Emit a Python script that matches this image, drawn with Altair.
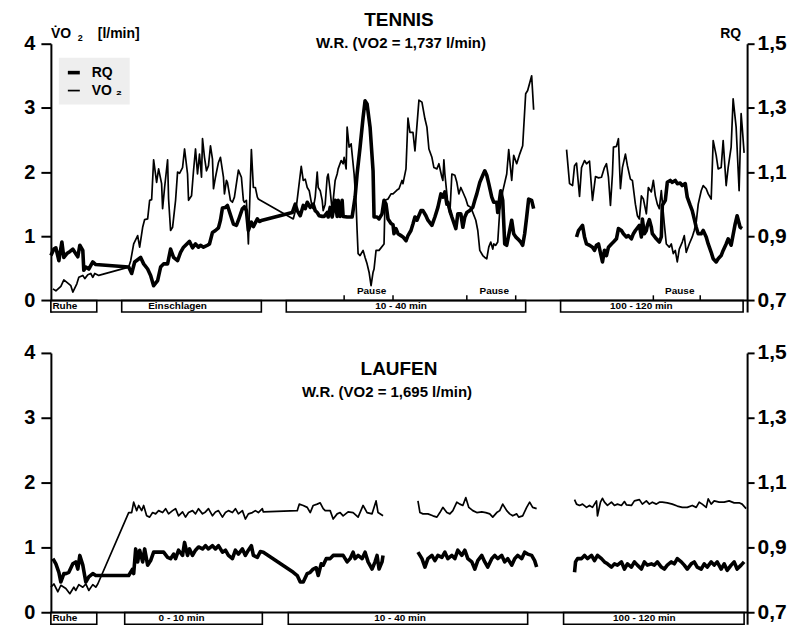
import altair as alt
import pandas as pd

FONT = "Liberation Sans"
T_DOMAIN = [0, 698]
V_DOMAIN = [-0.18, 4]
RQ_DOMAIN = [0.664, 1.5]
SERIES = ["RQ", "VO \u2082"]

# ---------------- TENNIS: VO2 (l/min) ----------------
tennis_vo2_a = [(2,0.18),(5,0.15),(10,0.22),(13,0.32),(17,0.27),(20,0.23),(22,0.13),(26,0.26),(28,0.36),(32,0.39),
 (34,0.34),(37,0.40),(40,0.42),(42,0.36),(44,0.42),(48,0.39),(78,0.52),(80,0.62),(83,0.88),(87,1.01),(89,0.83),
 (92,1.14),(94,1.26),(97,1.27),(99,1.56),(101,1.57),(103,2.19),(106,1.84),(108,2.05),(111,1.82),(112,1.43),
 (114,1.76),(117,2.19),(118,1.58),(120,1.09),(122,1.14),(125,1.56),(127,2.0),(129,1.98),(132,2.07),(134,2.36),
 (137,1.97),(138,1.56),(141,1.63),(143,2.02),(145,2.36),(147,1.97),(149,2.28),(151,1.92),(152,2.52),(154,2.23),
 (156,2.02),(158,2.10),(160,2.41),(162,2.2),(163,1.74),(165,1.92),(168,2.15),(170,2.23),(173,1.92),(174,1.66),
 (176,1.87),(177,1.84),(180,1.56),(182,1.53),(184,1.61),(188,2.03),(191,1.92),(193,1.56),(194,1.53),(196,1.56),
 (198,0.88),(201,2.35),(203,1.76),(205,1.76),(207,1.61),(208,1.58),(210,1.56),(243,1.27),(246,1.45),(251,2.09),
 (253,1.87),(255,1.89),(257,1.76),(259,1.71),(262,1.45),(263,1.43),(265,1.61),(267,2.0),(268,1.76),(270,1.71),
 (272,1.56),(273,1.40),(275,1.50),(277,1.92),(278,1.97),(280,1.71),(282,1.40),(285,1.87),(287,1.97),(288,2.05),
 (291,2.18),(293,2.13),(294,2.23),(296,2.05),(297,2.70),(299,2.39),(301,2.44),(304,1.97),(306,1.50),(307,1.09),
 (308,0.73),(310,0.70),(313,0.78),(315,0.67),(317,0.57),(319,0.44),(321,0.23),(323,0.44),(324,0.49),(326,0.78),
 (329,0.78),(334,0.88),(335,1.56),(338,1.58),(341,1.66),(343,1.66),(347,1.72),(349,1.74),(352,1.87),(353,1.82),
 (356,2.05),(358,2.84),(360,2.62),(363,2.62),(365,2.33),(369,3.12),(372,3.09),(375,2.83),(377,2.70),(379,2.36),
 (382,2.23),(384,2.07),(387,2.05),(389,2.13),(392,1.92),(393,1.87),(394,2.19),(395,1.97),(397,1.66),(398,1.50),
 (400,1.35),(402,1.97),(405,1.95),(407,1.84),(409,1.66),(411,1.76),(413,1.69),(416,1.58),(418,1.48),(421,1.45),
 (426,1.25),(428,1.09),(430,0.78),(433,0.70),(435,0.67),(437,0.65),(439,0.83),(441,0.91),(443,0.80),(444,0.88),
 (446,0.86),(448,0.91),(450,1.40),(453,1.70),(457,1.97),(459,2.35),(462,1.87),(464,2.26),(467,2.13),(470,2.28),
 (473,2.41),(476,3.22),(478,3.27),(482,3.50),(484,2.97)]
tennis_vo2_b = [(517,2.35),(520,1.82),(523,1.79),(525,2.10),(527,2.14),(530,1.62),(532,2.07),(535,2.18),(537,2.13),
 (540,2.17),(543,1.56),(546,1.93),(549,1.91),(552,1.92),(555,2.07),(557,2.13),(559,1.92),(561,1.48),(563,1.97),
 (564,2.39),(567,2.40),(569,2.52),(571,1.74),(573,2.07),(576,2.28),(578,2.10),(581,1.89),(583,1.87),(586,1.50),
 (588,1.32),(590,1.27),(592,1.63),(594,1.58),(597,1.35),(599,1.76),(602,1.69),(604,1.87),(606,1.63),(608,1.50),
 (610,1.43),(612,1.71),(615,1.19),(617,0.88),(620,0.83),(622,0.88),(624,0.73),(626,0.78),(628,0.60),(630,0.80),
 (633,0.91),(635,1.01),(637,0.75),(640,0.88),(643,0.99),(645,1.09),(647,1.22),(649,1.50),(652,1.71),(654,1.79),
 (657,1.74),(659,1.66),(662,1.58),(664,2.49),(667,2.26),(669,2.05),(672,2.07),(674,2.49),(677,1.79),(679,2.07),
 (682,2.39),(684,3.14),(687,2.70),(690,1.71),(692,2.91),(693,2.72),(695,2.30)]

# ---------------- TENNIS: RQ ----------------
tennis_rq_a = [(0,0.840),(3,0.860),(5,0.864),(8,0.824),(11,0.882),(13,0.834),(16,0.846),(18,0.850),(22,0.860),
 (24,0.850),(27,0.836),(29,0.872),(32,0.856),(33,0.794),(35,0.804),(38,0.798),(42,0.820),(45,0.812),(78,0.804),
 (81,0.784),(84,0.820),(90,0.834),(93,0.814),(97,0.798),(100,0.778),(103,0.746),(107,0.762),(110,0.804),
 (113,0.814),(117,0.814),(120,0.860),(123,0.834),(127,0.824),(130,0.850),(133,0.866),(139,0.884),(142,0.864),
 (145,0.876),(148,0.866),(150,0.872),(153,0.866),(157,0.872),(159,0.876),(162,0.912),(165,0.918),(168,0.926),
 (170,0.950),(172,0.988),(175,0.990),(177,0.996),(183,0.938),(186,0.934),(188,0.950),(192,0.986),(194,0.992),
 (196,0.980),(198,0.918),(201,0.944),(203,0.930),(207,0.954),(209,0.946),(212,0.950),(242,0.974),(245,1.000),
 (247,0.980),(250,0.964),(253,0.996),(255,0.986),(257,1.006),(260,0.990),(263,1.000),(265,0.980),(267,0.974),
 (269,0.964),(272,0.962),(274,0.962),(277,0.974),(278,0.960),(280,0.990),(282,0.960),(285,1.012),(287,0.962),
 (288,1.012),(290,0.962),(292,1.012),(293,0.962),(297,0.960),(302,0.960),(305,1.022),(307,1.094),(310,1.178),
 (313,1.270),(315,1.322),(317,1.312),(320,1.240),(323,1.104),(324,0.960),(327,0.960),(329,0.954),(332,0.970),
 (334,1.012),(336,1.000),(338,0.954),(341,0.940),(343,0.936),(344,0.908),(346,0.924),(348,0.908),(351,0.902),
 (353,0.898),(356,0.886),(358,0.902),(361,0.918),(363,0.938),(365,0.960),(367,0.950),(371,0.980),(373,0.980),
 (376,0.964),(378,0.950),(382,0.934),(385,0.960),(388,0.990),(391,1.032),(393,1.022),(395,1.038),(397,1.000),
 (398,1.006),(400,0.980),(402,0.960),(406,0.924),(408,0.970),(411,0.970),(413,0.928),(415,0.960),(417,0.974),
 (420,0.980),(423,0.990),(425,1.012),(427,1.032),(430,1.068),(433,1.090),(435,1.104),(437,1.090),(439,1.064),
 (442,1.022),(444,1.006),(447,1.006),(448,0.974),(451,1.042),(453,1.012),(455,0.876),(457,0.872),(462,0.950),
 (464,0.908),(466,0.898),(468,0.892),(471,0.882),(473,0.872),(475,0.908),(477,0.960),(479,1.016),(482,1.012),
 (484,0.986)]
tennis_rq_b = [(527,0.898),(529,0.918),(533,0.934),(535,0.898),(537,0.876),(540,0.872),(543,0.866),(545,0.856),
 (547,0.872),(549,0.876),(552,0.834),(553,0.820),(555,0.856),(557,0.840),(559,0.866),(562,0.876),(564,0.882),
 (567,0.892),(569,0.924),(572,0.918),(574,0.908),(577,0.898),(579,0.902),(582,0.892),(584,0.908),(586,0.918),
 (590,0.934),(592,0.898),(593,0.954),(595,0.908),(597,0.918),(598,0.934),(600,0.952),(602,0.928),(603,0.908),
 (607,0.892),(610,0.882),(612,0.898),(613,0.996),(616,1.012),(618,1.068),(621,1.074),(623,1.068),(626,1.074),
 (628,1.064),(631,1.066),(633,1.058),(636,1.064),(638,1.022),(641,0.996),(643,0.980),(645,0.954),(647,0.928),
 (649,0.908),(652,0.908),(654,0.918),(657,0.898),(659,0.876),(662,0.850),(664,0.830),(667,0.820),(669,0.830),
 (672,0.840),(674,0.856),(677,0.876),(679,0.892),(682,0.872),(686,0.938),(688,0.964),(691,0.928),(693,0.924)]

# ---------------- LAUFEN: VO2 (l/min) ----------------
laufen_vo2_a = [(0,0.39),(3,0.44),(7,0.32),(10,0.42),(15,0.37),(19,0.29),(23,0.39),(25,0.34),(28,0.43),(32,0.39),
 (35,0.44),(38,0.34),(42,0.43),(45,0.39),(47,0.44),(78,1.54),(81,1.54),(83,1.70),(86,1.57),(88,1.65),(91,1.57),
 (93,1.65),(96,1.49),(99,1.47),(102,1.54),(105,1.52),(108,1.57),(112,1.54),(115,1.60),(118,1.52),(122,1.57),
 (125,1.60),(128,1.49),(132,1.55),(135,1.47),(138,1.54),(142,1.57),(145,1.52),(148,1.60),(152,1.52),(155,1.55),
 (158,1.60),(162,1.49),(165,1.55),(168,1.57),(172,1.47),(175,1.54),(178,1.57),(182,1.54),(185,1.60),(188,1.52),
 (192,1.57),(195,1.44),(198,1.52),(202,1.54),(205,1.57),(208,1.54),(212,1.60),(213,1.55),(247,1.57),(249,1.67),
 (253,1.65),(257,1.62),(260,1.54),(263,1.65),(267,1.67),(270,1.69),(273,1.60),(275,1.57),(280,1.57),(283,1.44),
 (287,1.52),(290,1.54),(293,1.49),(298,1.55),(303,1.54),(308,1.47),(313,1.65),(317,1.54),(322,1.52),(326,1.72),
 (328,1.54),(333,1.49)]
laufen_vo2_b = [(368,1.72),(370,1.54),(373,1.52),(378,1.52),(383,1.49),(387,1.47),(390,1.54),(393,1.62),(397,1.54),
 (400,1.52),(403,1.57),(407,1.70),(410,1.67),(413,1.65),(416,1.77),(419,1.62),(423,1.57),(427,1.54),(432,1.55),
 (436,1.54),(440,1.52),(443,1.47),(447,1.54),(450,1.57),(453,1.67),(457,1.57),(460,1.52),(463,1.49),(467,1.52),
 (469,1.47),(473,1.49),(477,1.62),(480,1.70),(483,1.62),(487,1.60)]
laufen_vo2_c = [(525,1.74),(527,1.67),(530,1.65),(533,1.67),(537,1.62),(540,1.65),(543,1.62),(547,1.72),(548,1.49),
 (551,1.70),(553,1.76),(555,1.70),(558,1.65),(562,1.70),(565,1.65),(568,1.67),(572,1.65),(575,1.71),(577,1.66),
 (582,1.65),(585,1.72),(590,1.74),(593,1.67),(597,1.72),(600,1.67),(603,1.70),(607,1.67),(610,1.70),(613,1.70),
 (618,1.69),(623,1.67),(628,1.64),(633,1.62),(638,1.62),(643,1.65),(647,1.62),(650,1.70),(653,1.67),(657,1.62),
 (659,1.75),(662,1.67),(665,1.72),(670,1.70),(675,1.70),(680,1.72),(685,1.69),(690,1.69),(693,1.67),(697,1.60)]

# ---------------- LAUFEN: RQ ----------------
laufen_rq_a = [(2,0.866),(5,0.850),(8,0.824),(10,0.794),(13,0.820),(15,0.820),(18,0.824),(22,0.850),(25,0.856),
 (27,0.834),(29,0.876),(32,0.846),(35,0.794),(38,0.810),(42,0.820),(45,0.814),(48,0.814),(78,0.814),(82,0.834),
 (83,0.820),(85,0.896),(87,0.856),(89,0.892),(92,0.856),(94,0.896),(97,0.846),(100,0.860),(103,0.886),(108,0.886),
 (113,0.886),(117,0.870),(120,0.866),(123,0.880),(125,0.866),(128,0.892),(132,0.876),(134,0.916),(137,0.876),
 (139,0.896),(142,0.876),(145,0.892),(148,0.902),(152,0.896),(155,0.906),(158,0.896),(162,0.906),(165,0.896),
 (168,0.906),(172,0.886),(175,0.892),(178,0.876),(182,0.866),(185,0.892),(188,0.880),(192,0.896),(195,0.876),
 (198,0.892),(201,0.906),(203,0.876),(207,0.870),(210,0.888),(213,0.886),(243,0.824),(247,0.814),(250,0.794),
 (253,0.794),(257,0.820),(260,0.824),(263,0.834),(266,0.838),(268,0.814),(271,0.850),(273,0.846),(276,0.866),
 (280,0.866),(283,0.876),(288,0.876),(293,0.876),(297,0.856),(300,0.866),(303,0.886),(305,0.866),(308,0.876),
 (312,0.866),(315,0.886),(318,0.856),(322,0.834),(325,0.856),(327,0.876),(329,0.834),(332,0.856),(333,0.876)]
laufen_rq_b = [(368,0.886),(372,0.866),(375,0.840),(378,0.866),(382,0.876),(385,0.860),(388,0.876),(392,0.870),
 (395,0.886),(398,0.866),(402,0.876),(405,0.866),(408,0.892),(412,0.876),(415,0.892),(418,0.866),(422,0.856),
 (425,0.834),(428,0.860),(432,0.876),(435,0.856),(438,0.840),(442,0.866),(445,0.876),(448,0.866),(452,0.876),
 (455,0.856),(458,0.866),(462,0.846),(465,0.866),(468,0.876),(472,0.866),(475,0.886),(478,0.880),(482,0.876),
 (485,0.860),(487,0.840)]
laufen_rq_c = [(525,0.824),(526,0.856),(528,0.866),(532,0.866),(535,0.876),(538,0.866),(542,0.876),(545,0.860),
 (548,0.876),(552,0.866),(555,0.856),(558,0.850),(562,0.840),(565,0.850),(568,0.846),(572,0.856),(575,0.834),
 (578,0.850),(582,0.840),(585,0.856),(588,0.846),(592,0.834),(595,0.856),(598,0.846),(602,0.850),(605,0.846),
 (608,0.856),(612,0.840),(615,0.834),(618,0.846),(622,0.856),(625,0.850),(628,0.866),(632,0.856),(635,0.846),
 (638,0.834),(642,0.850),(645,0.856),(648,0.840),(652,0.834),(655,0.850),(658,0.840),(662,0.856),(665,0.846),
 (668,0.856),(672,0.834),(675,0.850),(678,0.830),(682,0.846),(685,0.856),(688,0.834),(692,0.846),(695,0.856)]

# ---------------- phase boxes (start, end, label, label position) ----------------
tennis_phases = [(0, 46, "Ruhe", 14), (71, 211, "Einschlagen", 127), (236, 476, "10 - 40 min", 351), (511, 694, "100 - 120 min", 592)]
laufen_phases = [(0, 46, "Ruhe", 14), (74, 212, "0 - 10 min", 131), (238, 478, "10 - 40 min", 350), (514, 695, "100 - 120 min", 595)]
tennis_pauses = [(294, 343, "Pause"), (417, 466, "Pause"), (604, 651, "Pause")]

tennis_titles = ["TENNIS", "W.R. (VO2 = 1,737 l/min)"]
laufen_titles = ["LAUFEN", "W.R. (VO2 = 1,695 l/min)"]


def series_df(segments, col, series):
    rows = []
    for seg_id, pts in enumerate(segments):
        for t, v in pts:
            rows.append({"t": t, col: v, "seg": seg_id, "series": series})
    return pd.DataFrame(rows)


XS = alt.Scale(domain=T_DOMAIN, nice=False, zero=False)
YS = alt.Scale(domain=V_DOMAIN, nice=False, zero=False)
RS = alt.Scale(domain=RQ_DOMAIN, nice=False, zero=False)

THIN, THICK = 1.7, 3.6


def panel(vo2_segs, rq_segs, phases, pauses, titles, height, title_y, sub_y, sub_x, with_legend):
    vo2_df = series_df(vo2_segs, "v", SERIES[1])
    rq_df = series_df(rq_segs, "rq", SERIES[0])
    if with_legend:
        sw = alt.StrokeWidth("series:N", scale=alt.Scale(domain=SERIES, range=[THICK, THIN]),
                             legend=alt.Legend(orient="none", legendX=8, legendY=14, title=None,
                                               fillColor="#eeeeee", padding=7, symbolType="stroke",
                                               symbolSize=144, symbolStrokeColor="black",
                                               labelFontSize=14, labelFontWeight="bold", labelFont=FONT,
                                               labelColor="black", rowPadding=3, labelOffset=10))
        sw_v = sw
        sw_r = sw
    else:
        sw_v = alt.value(THIN)
        sw_r = alt.value(THICK)

    left_axis = alt.Axis(values=[0, 1, 2, 3, 4], title=None, format="d", domainColor="black",
                         domainWidth=2, tickColor="black", tickWidth=2, tickSize=10,
                         labelFontSize=20, labelFontWeight="bold", labelColor="black",
                         labelPadding=6, grid=False)
    right_axis = alt.Axis(orient="right", values=[0.7, 0.9, 1.1, 1.3, 1.5], title=None,
                          labelExpr="replace(format(datum.value, '.1f'), '.', ',')",
                          domainColor="black", domainWidth=2, tickColor="black", tickWidth=2,
                          tickSize=7, labelFontSize=21, labelFontWeight="bold", labelColor="black",
                          labelPadding=3, grid=False)

    vo2 = alt.Chart(vo2_df).mark_line(color="black", strokeJoin="round").encode(
        x=alt.X("t:Q", scale=XS, axis=None),
        y=alt.Y("v:Q", scale=YS, axis=left_axis),
        detail="seg:N",
        strokeWidth=sw_v,
    )

    ph_df = pd.DataFrame(phases, columns=["t0", "t1", "label", "tl"])
    boxes = alt.Chart(ph_df).mark_rect(fill="white", stroke="black", strokeWidth=1.6).encode(
        x=alt.X("t0:Q", scale=XS, axis=None), x2="t1:Q",
        y=alt.YDatum(0), y2=alt.Y2Datum(-0.18),
    )
    box_labels = alt.Chart(ph_df).mark_text(fontSize=10, fontWeight="bold", baseline="middle",
                                             color="black").encode(
        x=alt.X("tl:Q", scale=XS, axis=None), y=alt.YDatum(-0.09), text="label:N")

    axis_line = alt.Chart(pd.DataFrame({"v": [0]})).mark_rule(color="black", strokeWidth=2).encode(
        y=alt.Y("v:Q"))

    layers = [vo2, boxes, box_labels, axis_line]

    if pauses:
        pa = pd.DataFrame(pauses, columns=["t0", "t1", "label"])
        ticks = pd.DataFrame({"t": list(pa["t0"]) + list(pa["t1"])})
        layers.append(alt.Chart(ticks).mark_rule(color="black", strokeWidth=1.5).encode(
            x=alt.X("t:Q", scale=XS, axis=None), y=alt.YDatum(0), y2=alt.Y2Datum(0.08)))
        pa["tm"] = (pa["t0"] + pa["t1"]) / 2 + 3
        layers.append(alt.Chart(pa).mark_text(fontSize=10, fontWeight="bold", baseline="alphabetic",
                                              color="black").encode(
            x=alt.X("tm:Q", scale=XS, axis=None), y=alt.YDatum(0.1), text="label:N"))

    tdf = pd.DataFrame({"label": [titles[0]]})
    sdf = pd.DataFrame({"label": [titles[1]]})
    layers.append(alt.Chart(tdf).mark_text(fontSize=19, fontWeight="bold", align="center",
                                           baseline="alphabetic", color="black").encode(
        x=alt.value(349), y=alt.value(title_y), text="label:N"))
    layers.append(alt.Chart(sdf).mark_text(fontSize=15, fontWeight="bold", align="center",
                                           baseline="alphabetic", color="black").encode(
        x=alt.value(sub_x), y=alt.value(sub_y), text="label:N"))

    if with_legend:
        ax_parts = pd.DataFrame({"label": ["V\u0307O", "2", "[l/min]", "RQ"],
                                 "px": [0, 27, 47, 692], "py": [-6, -3, -6, -6],
                                 "size": [14, 9, 14, 14], "al": ["left", "left", "left", "right"]})
        for i in range(len(ax_parts)):
            r = ax_parts.iloc[[i]]
            layers.append(alt.Chart(r).mark_text(fontSize=int(r["size"].iloc[0]), fontWeight="bold",
                                                 align=r["al"].iloc[0], baseline="alphabetic",
                                                 color="black").encode(
                x=alt.value(int(r["px"].iloc[0])), y=alt.value(int(r["py"].iloc[0])), text="label:N"))

    inner = alt.layer(*layers)
    rq = alt.Chart(rq_df).mark_line(color="black", strokeJoin="round").encode(
        x=alt.X("t:Q", scale=XS, axis=None),
        y=alt.Y("rq:Q", scale=RS, axis=right_axis),
        detail="seg:N",
        strokeWidth=sw_r,
    )
    return alt.layer(inner, rq).resolve_scale(y="independent").properties(width=698, height=height)


top = panel([tennis_vo2_a, tennis_vo2_b], [tennis_rq_a, tennis_rq_b], tennis_phases, tennis_pauses,
            tennis_titles, 269, -18, 4, 351, True)
bottom = panel([laufen_vo2_a, laufen_vo2_b, laufen_vo2_c], [laufen_rq_a, laufen_rq_b, laufen_rq_c],
               laufen_phases, [], laufen_titles, 272, 22, 44, 337, False)

chart = alt.vconcat(top, bottom, spacing=41, bounds="flush").properties(
    padding={"left": 15, "top": 2, "right": 0, "bottom": 0}
).configure(font=FONT).configure_view(stroke=None)

chart.save("out.html", embed_options={"renderer": "svg", "actions": False})
